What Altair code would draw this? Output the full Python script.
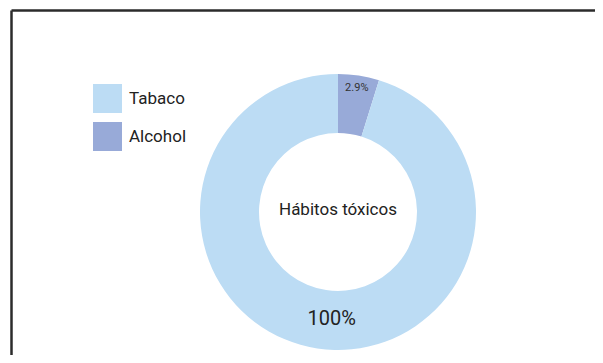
import altair as alt
import pandas as pd

categories = ["Alcohol", "Tabaco"]
shares = [4.8, 95.2]          # visual share of the ring
labels = ["2.9%", "100%"]
order = [0, 1]
legend_order = ["Tabaco", "Alcohol"]
colors = ["#bcdcf4", "#98aad8"]
center_title = "Hábitos tóxicos"

df = pd.DataFrame({"category": categories, "share": shares, "label": labels, "ord": order})

CX, CY = 330, 204
FONT = "Roboto"

base = alt.Chart(df)

theta = alt.Theta("share:Q", stack=True)
ordr = alt.Order("ord:Q")

ring = base.mark_arc(innerRadius=79, outerRadius=138).encode(
    theta=theta,
    order=ordr,
    x=alt.value(CX),
    y=alt.value(CY),
    color=alt.Color(
        "category:N",
        scale=alt.Scale(domain=legend_order, range=colors),
        legend=alt.Legend(
            title=None,
            orient="none",
            legendX=85,
            legendY=76,
            symbolType="square",
            symbolSize=841,
            symbolStrokeWidth=0,
            symbolOpacity=1,
            labelFont=FONT,
            labelFontSize=17,
            labelColor="#222222",
            labelOffset=7,
            rowPadding=9,
            padding=0,
        ),
    ),
)

small_lab = base.mark_text(radius=125, fontSize=11, font=FONT, color="#333333").encode(
    theta=theta,
    order=ordr,
    x=alt.value(CX),
    y=alt.value(CY),
    text=alt.condition(alt.datum.category == "Alcohol", alt.Text("label:N"), alt.value("")),
)

big_lab = base.mark_text(radius=108, fontSize=20, font=FONT, color="#222222", dx=10).encode(
    theta=theta,
    order=ordr,
    x=alt.value(CX),
    y=alt.value(CY),
    text=alt.condition(alt.datum.category == "Tabaco", alt.Text("label:N"), alt.value("")),
)

one = alt.Data(values=[{}])

title_txt = alt.Chart(one).mark_text(fontSize=17, font=FONT, color="#222222").encode(
    x=alt.value(CX), y=alt.value(CY - 2), text=alt.value(center_title)
)

top_line = alt.Chart(one).mark_rule(color="#2b2b2b", strokeWidth=2.5).encode(
    x=alt.value(3.5), x2=alt.value(587), y=alt.value(2.5)
)
left_line = alt.Chart(one).mark_rule(color="#2b2b2b", strokeWidth=2.5).encode(
    x=alt.value(3.5), y=alt.value(2.5), y2=alt.value(347)
)

chart = alt.layer(ring, small_lab, big_lab, title_txt, top_line, left_line).properties(
    width=587,
    height=347,
    autosize=alt.AutoSizeParams(type="none"),
    padding=0,
    background="white",
).configure_view(stroke=None)

chart.save("out.html", embed_options={"renderer": "svg", "actions": False})
